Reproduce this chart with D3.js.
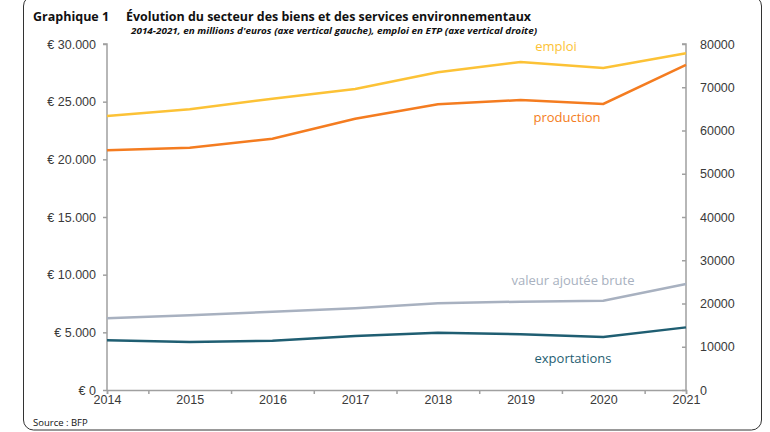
<!DOCTYPE html>
<html>
<head>
<meta charset="utf-8">
<script src="https://cdn.jsdelivr.net/npm/d3@7"></script>
<style>
  body { margin: 0; background: #fff; }
  svg { display: block; font-family: "Open Sans", "Noto Sans", sans-serif; }
  .axis path, .axis line { stroke: #a0a0a0; stroke-width: 1.5; }
  .axis text { fill: #3a3a3a; font-size: 12.5px; }
</style>
</head>
<body>
<svg width="770" height="432"></svg>
<script>
var years = [2014, 2015, 2016, 2017, 2018, 2019, 2020, 2021];

// left axis, millions d'euros
var production = [20780, 21010, 21790, 23520, 24770, 25140, 24800, 28180];
var valeurAjoutee = [6220, 6480, 6790, 7080, 7520, 7660, 7740, 9190];
var exportations = [4310, 4160, 4280, 4680, 4970, 4830, 4600, 5430];

// right axis, emploi en ETP
var emploi = [63350, 64900, 67350, 69600, 73450, 75850, 74450, 77850];

var leftTicks = [0, 5000, 10000, 15000, 20000, 25000, 30000];
var rightTicks = [0, 10000, 20000, 30000, 40000, 50000, 60000, 70000, 80000];

var svg = d3.select("svg"),
	margin = {top: 44, right: 84, bottom: 42, left: 107},
	width = 770 - margin.left - margin.right,
	height = 432 - margin.top - margin.bottom;

// frame
svg.append("rect")
	.attr("x", 23.5)
	.attr("y", -4)
	.attr("width", 738)
	.attr("height", 434)
	.attr("rx", 10)
	.attr("fill", "none")
	.attr("stroke", "#333")
	.attr("stroke-width", 1);

svg.append("text")
	.attr("x", 33)
	.attr("y", 21)
	.attr("font-weight", "bold")
	.attr("font-size", "12.5px")
	.attr("fill", "#111")
	.text("Graphique 1");

svg.append("text")
	.attr("x", 126)
	.attr("y", 21)
	.attr("font-weight", "bold")
	.attr("font-size", "12.5px")
	.attr("fill", "#111")
	.attr("textLength", 405)
	.attr("lengthAdjust", "spacingAndGlyphs")
	.text("Évolution du secteur des biens et des services environnementaux");

svg.append("text")
	.attr("x", 131)
	.attr("y", 34)
	.attr("font-weight", "bold")
	.attr("font-style", "italic")
	.attr("font-size", "9.5px")
	.attr("fill", "#111")
	.attr("textLength", 406)
	.attr("lengthAdjust", "spacingAndGlyphs")
	.text("2014-2021, en millions d'euros (axe vertical gauche), emploi en ETP (axe vertical droite)");

svg.append("text")
	.attr("x", 33)
	.attr("y", 426)
	.attr("font-size", "9.5px")
	.attr("fill", "#111")
	.text("Source : BFP");

var g = svg.append("g")
	.attr("transform", "translate(" + margin.left + "," + margin.top + ")");

var x = d3.scaleLinear().domain([2014, 2021]).range([0, width]),
	yL = d3.scaleLinear().domain([0, 30000]).range([height, 0]),
	yR = d3.scaleLinear().domain([0, 80000]).range([height, 0]);

var euro = function(d) { return "€ " + d3.format(",")(d).replace(/,/g, "."); };

// x axis: labels at years, ticks between years
var halfYears = d3.range(2014, 2021).map(function(d) { return d + 0.5; });
halfYears = [2014].concat(halfYears).concat([2021]);

g.append("g")
	.attr("class", "axis axis--x")
	.attr("transform", "translate(0," + height + ")")
	.call(d3.axisBottom(x).tickValues(halfYears).tickSize(4).tickFormat(""));

g.append("g")
	.attr("class", "axis axis--xlab")
	.attr("transform", "translate(0," + height + ")")
	.call(d3.axisBottom(x).tickValues(years).tickSize(0).tickPadding(5).tickFormat(d3.format("d")))
	.call(function(a) { a.select(".domain").remove(); });

g.append("g")
	.attr("class", "axis axis--y")
	.call(d3.axisLeft(yL).tickValues(leftTicks).tickSize(4).tickPadding(7).tickFormat(euro))
	.call(function(a) { a.select(".domain").attr("d", "M0," + height + "V0H-4"); });

g.append("g")
	.attr("class", "axis axis--y2")
	.attr("transform", "translate(" + width + ",0)")
	.call(d3.axisRight(yR).tickValues(rightTicks).tickSize(-4).tickPadding(14).tickFormat(d3.format("d")))
	.call(function(a) { a.select(".domain").attr("d", "M-4,0H0V" + height); });

var series = [
	{name: "emploi", values: emploi, y: yR, color: "#fcc236", lx: 449, ly: 7},
	{name: "production", values: production, y: yL, color: "#f47c20", lx: 460, ly: 78},
	{name: "valeur ajoutée brute", values: valeurAjoutee, y: yL, color: "#a8b1c0", lx: 466, ly: 241},
	{name: "exportations", values: exportations, y: yL, color: "#1f5e72", lx: 466, ly: 319}
];

series.forEach(function(s) {
	var line = d3.line()
		.x(function(d, i) { return x(years[i]); })
		.y(function(d) { return s.y(d); });

	g.append("path")
		.datum(s.values)
		.attr("fill", "none")
		.attr("stroke", s.color)
		.attr("stroke-width", 2.5)
		.attr("d", line);

	g.append("text")
		.attr("x", s.lx)
		.attr("y", s.ly)
		.attr("text-anchor", "middle")
		.attr("font-size", "13px")
		.attr("fill", s.color)
		.text(s.name);
});
</script>
</body>
</html>
